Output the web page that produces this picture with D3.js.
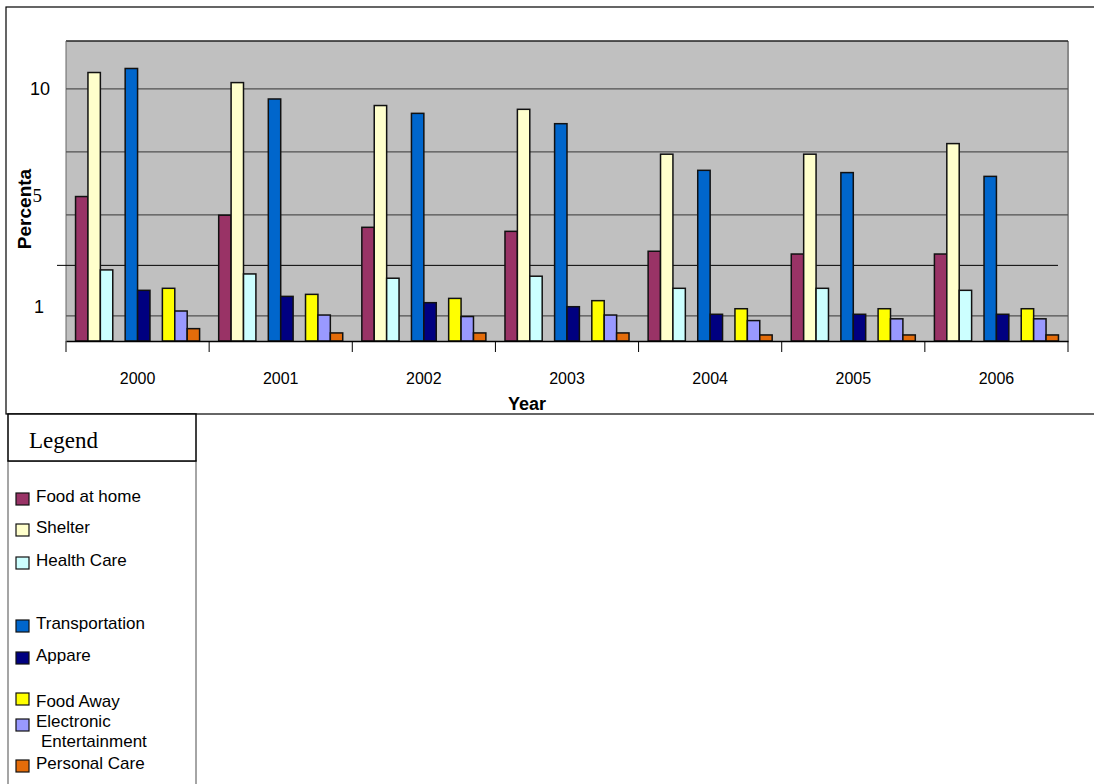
<!DOCTYPE html>
<html>
<head>
<meta charset="utf-8">
<script src="https://cdn.jsdelivr.net/npm/d3@7"></script>
<style>
  body { margin: 0; background: #fff; }
  svg { display: block; font-family: Arial, "Liberation Sans", sans-serif; }
</style>
</head>
<body>
<div id="chart"></div>
<script>
// data
const years = ["2000", "2001", "2002", "2003", "2004", "2005", "2006"]
// two blank series keep the gaps between the bar clusters
const series = ["Food at home", "Shelter", "Health Care", "", "Transportation", "Appare", "", "Food Away", "Electronic Entertainment", "Personal Care"]
const colors = ["#993366", "#FFFFCC", "#CCFFFF", "none", "#0066CC", "#000080", "none", "#FFFF00", "#9999FF", "#E46C0A"]

const foodAtHome     = [5.73, 4.99, 4.51, 4.35, 3.56, 3.45, 3.45]
const shelter        = [10.65, 10.25, 9.34, 9.19, 7.41, 7.41, 7.83]
const healthCare     = [2.82, 2.66, 2.49, 2.57, 2.09, 2.09, 2.01]
const transportation = [10.81, 9.60, 9.03, 8.62, 6.77, 6.68, 6.53]
const apparel        = [2.01, 1.77, 1.52, 1.36, 1.06, 1.06, 1.06]
const foodAway       = [2.09, 1.85, 1.69, 1.60, 1.28, 1.28, 1.28]
const electronic     = [1.19, 1.03, 0.97, 1.03, 0.81, 0.88, 0.88]
const personalCare   = [0.49, 0.32, 0.32, 0.32, 0.24, 0.24, 0.24]

const values = [foodAtHome, shelter, healthCare, null, transportation, apparel, null, foodAway, electronic, personalCare]

const gridValues = [10, 7.5, 5, 1]
const tickLabels = ["10", "5", "1"]
const tickLabelValues = [10, 5, 1]

const width = 1094, height = 784

const svg = d3.select("#chart").append("svg")
  .attr("width", width)
  .attr("height", height)

// outer chart frame
svg.append("rect")
  .attr("x", 6).attr("y", 7)
  .attr("width", 1100).attr("height", 407)
  .attr("fill", "#fff")
  .attr("stroke", "#000").attr("stroke-width", 1.2)

const plotLeft = 66, plotRight = 1068, plotTop = 41, plotBottom = 341

const x0 = d3.scaleBand().domain(years).range([plotLeft, plotRight])
const x1 = d3.scaleBand().domain(d3.range(series.length)).range([0, x0.bandwidth()]).paddingOuter(0.77)
const y = d3.scaleLinear().domain([0, 11.9]).range([plotBottom, plotTop])

// plot area
svg.append("rect")
  .attr("x", plotLeft).attr("y", plotTop)
  .attr("width", plotRight - plotLeft).attr("height", plotBottom - plotTop)
  .attr("fill", "#C0C0C0")
svg.append("line")
  .attr("x1", plotRight).attr("x2", plotRight).attr("y1", plotTop).attr("y2", plotBottom)
  .attr("stroke", "#8a8a8a").attr("stroke-width", 2)
svg.append("line")
  .attr("x1", plotLeft).attr("x2", plotRight).attr("y1", plotTop).attr("y2", plotTop)
  .attr("stroke", "#222").attr("stroke-width", 1.5)
svg.append("line")
  .attr("x1", plotLeft).attr("x2", plotLeft).attr("y1", plotTop).attr("y2", plotBottom)
  .attr("stroke", "#666").attr("stroke-width", 1)

// gridlines
svg.selectAll(".grid").data(gridValues).enter()
  .append("line")
    .attr("class", "grid")
    .attr("x1", plotLeft).attr("x2", plotRight)
    .attr("y1", d => y(d)).attr("y2", d => y(d))
    .attr("stroke", "#505050").attr("stroke-width", 1.3)

// the odd black line at 3
svg.append("line")
  .attr("x1", 57).attr("x2", 1058)
  .attr("y1", y(3)).attr("y2", y(3))
  .attr("stroke", "#000").attr("stroke-width", 1)

// bars
const rows = []
years.forEach((yr, i) => {
  values.forEach((s, k) => {
    if (s) rows.push({ year: yr, k: k, v: s[i] })
  })
})

svg.append("g").selectAll("rect").data(rows).enter()
  .append("rect")
    .attr("x", d => x0(d.year) + x1(d.k))
    .attr("y", d => y(d.v))
    .attr("width", x1.bandwidth())
    .attr("height", d => y(0) - y(d.v))
    .attr("fill", d => colors[d.k])
    .attr("stroke", "#111")
    .attr("stroke-width", 1.5)

// x axis
const xAxis = d3.axisBottom(x0).tickSize(0).tickPadding(32)
const gx = svg.append("g")
  .attr("transform", "translate(0," + plotBottom + ")")
  .call(xAxis)
gx.select(".domain").attr("stroke", "#000").attr("stroke-width", 1.5)
gx.selectAll("text").attr("font-size", 16).attr("fill", "#000")
  .attr("font-family", "Arial, 'Liberation Sans', sans-serif")

svg.selectAll(".xtick").data(years.concat(["end"])).enter()
  .append("line")
    .attr("class", "xtick")
    .attr("x1", d => d === "end" ? plotRight : x0(d))
    .attr("x2", d => d === "end" ? plotRight : x0(d))
    .attr("y1", plotBottom).attr("y2", plotBottom + 11)
    .attr("stroke", "#000").attr("stroke-width", 1)

svg.append("text")
  .text("Year")
  .attr("x", 527).attr("y", 410)
  .attr("text-anchor", "middle")
  .attr("font-weight", "bold")
  .attr("font-size", 18)

svg.append("text")
  .text("Percenta")
  .attr("text-anchor", "middle")
  .attr("font-weight", "bold")
  .attr("font-size", 19)
  .attr("transform", "translate(31,209)rotate(-90)")

// y labels, placed loosely like the original text boxes
const labelShift = [0, -20, -9]
const labelRight = [50, 42, 44]
svg.selectAll(".ylab").data(tickLabels).enter()
  .append("text")
    .attr("class", "ylab")
    .text(d => d)
    .attr("x", (d, i) => labelRight[i])
    .attr("y", (d, i) => y(tickLabelValues[i]) + labelShift[i])
    .attr("dy", "0.35em")
    .attr("text-anchor", "end")
    .attr("font-size", (d, i) => i === 1 ? 19 : 18)
    .attr("font-family", (d, i) => i === 1 ? "'Liberation Serif', serif" : null)

// legend
const legend = svg.append("g")
legend.append("rect")
  .attr("x", 8).attr("y", 461)
  .attr("width", 188).attr("height", 340)
  .attr("fill", "#fff")
  .attr("stroke", "#888").attr("stroke-width", 1.5)
legend.append("rect")
  .attr("x", 8).attr("y", 414)
  .attr("width", 188).attr("height", 47)
  .attr("fill", "#fff")
  .attr("stroke", "#000").attr("stroke-width", 1.5)
legend.append("text")
  .text("Legend")
  .attr("x", 29).attr("y", 448)
  .attr("font-family", "'Liberation Serif', 'Times New Roman', serif")
  .attr("font-size", 23)

// row positions of the legend entries (blank series keep their slot)
const legendRowY = [493, 524, 557, 590, 620, 652, 676, 693, 719, 760]
const legendItems = series.map((s, k) => ({ name: s, k: k })).filter(d => d.name !== "")

const item = legend.selectAll(".item").data(legendItems).enter()
  .append("g").attr("class", "item")
  .attr("transform", d => "translate(16," + legendRowY[d.k] + ")")

item.append("rect")
  .attr("width", 13).attr("height", 12)
  .attr("fill", d => colors[d.k])
  .attr("stroke", "#111").attr("stroke-width", 1.2)

item.each(function(d) {
  const g = d3.select(this)
  if (d.name === "Electronic Entertainment") {
    g.append("text").text("Electronic").attr("x", 20).attr("y", 8).attr("font-size", 17)
    g.append("text").text("Entertainment").attr("x", 25).attr("y", 28).attr("font-size", 17)
  } else {
    const dy = d.name === "Food Away" ? 14 : 9
    g.append("text").text(d.name).attr("x", 20).attr("y", dy).attr("font-size", 17)
  }
})
</script>
</body>
</html>
